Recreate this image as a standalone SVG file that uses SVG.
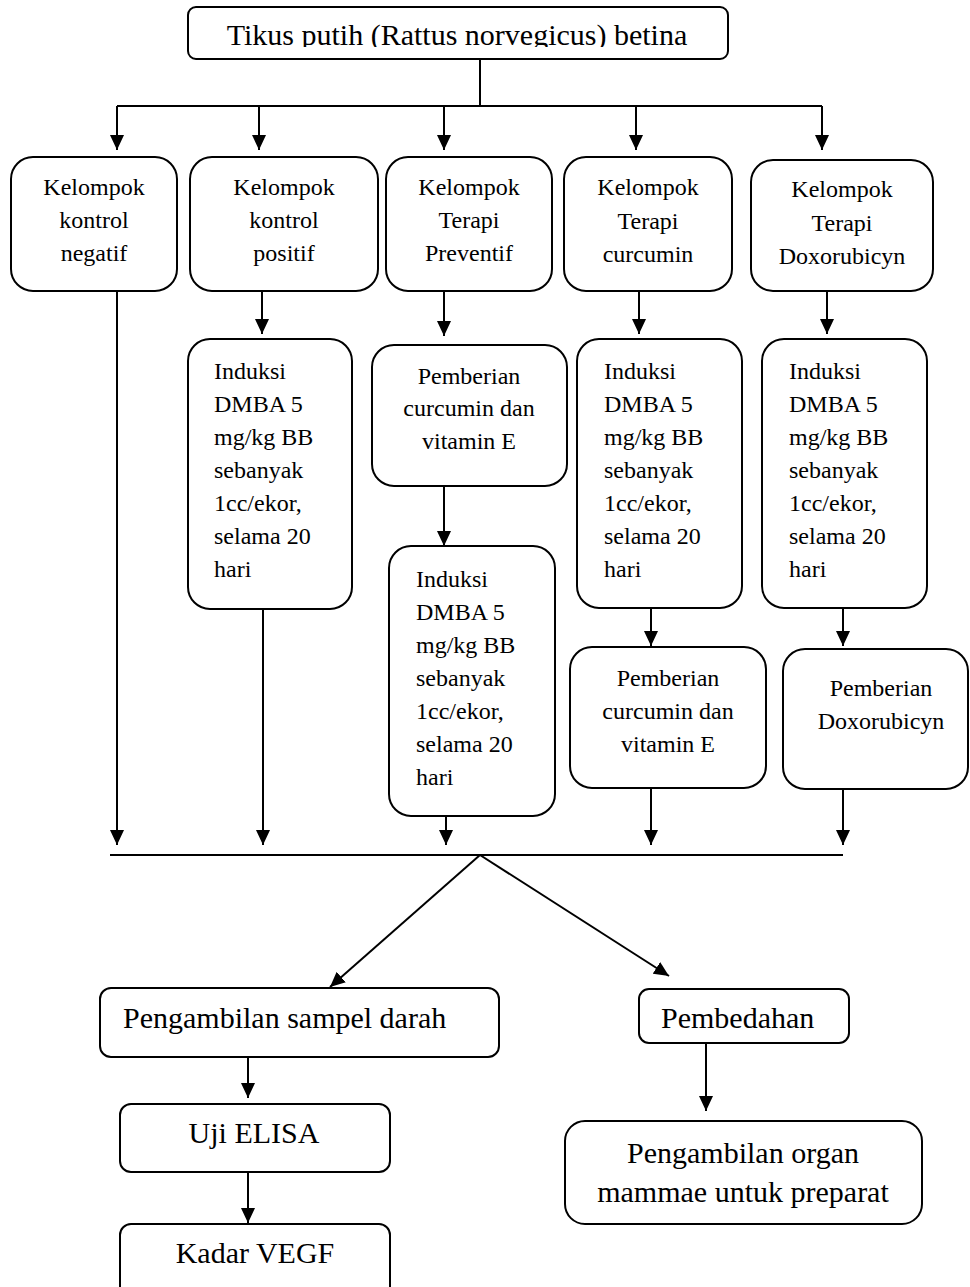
<svg xmlns="http://www.w3.org/2000/svg" width="970" height="1287" viewBox="0 0 970 1287">
<style>
.box{fill:#fff;stroke:#000;stroke-width:2}
.ln{fill:none;stroke:#000;stroke-width:2}
.t{font-family:"Liberation Serif","Times New Roman",serif;font-size:24px;fill:#000}
.c{text-anchor:middle}
.big{font-size:30px}
</style>
<defs>
<marker id="ah" viewBox="0 0 15 14" refX="15" refY="7" markerWidth="15" markerHeight="14" markerUnits="userSpaceOnUse" orient="auto">
<path d="M0,0 L15,7 L0,14 z" fill="#000"/>
</marker>
<clipPath id="titleClip"><rect x="188" y="7" width="540" height="40"/></clipPath>
</defs>
<rect width="970" height="1287" fill="#fff"/>

<g id="connectors">
<path class="ln" d="M480,59 V106 M117,106 H822 M110,855 H843"/>
<g marker-end="url(#ah)">
<path class="ln" d="M117,106 V150"/>
<path class="ln" d="M259,106 V150"/>
<path class="ln" d="M444,106 V150"/>
<path class="ln" d="M636,106 V150"/>
<path class="ln" d="M822,106 V150"/>
<path class="ln" d="M117,291 V845"/>
<path class="ln" d="M262,291 V334"/>
<path class="ln" d="M263,609 V845"/>
<path class="ln" d="M444,291 V336"/>
<path class="ln" d="M444,486 V546"/>
<path class="ln" d="M446,816 V845"/>
<path class="ln" d="M639,291 V334"/>
<path class="ln" d="M651,604 V646"/>
<path class="ln" d="M651,787 V845"/>
<path class="ln" d="M827,291 V334"/>
<path class="ln" d="M843,604 V646"/>
<path class="ln" d="M843,789 V845"/>
<path class="ln" d="M480,855 L330,987"/>
<path class="ln" d="M480,855 L669,976"/>
<path class="ln" d="M248,1057 V1098"/>
<path class="ln" d="M248,1172 V1223"/>
<path class="ln" d="M706,1043 V1111"/>
</g>
</g>

<g id="title">
<rect class="box" x="188" y="7" width="540" height="52" rx="8"/>
<text class="t c big" x="457" y="45" clip-path="url(#titleClip)">Tikus putih (Rattus norvegicus) betina</text>
</g>

<g id="k-negatif">
<rect class="box" x="11" y="157" width="166" height="134" rx="22"/>
<text class="t c" x="94" y="195">Kelompok</text>
<text class="t c" x="94" y="228">kontrol</text>
<text class="t c" x="94" y="261">negatif</text>
</g>
<g id="k-positif">
<rect class="box" x="190" y="157" width="188" height="134" rx="22"/>
<text class="t c" x="284" y="195">Kelompok</text>
<text class="t c" x="284" y="228">kontrol</text>
<text class="t c" x="284" y="261">positif</text>
</g>
<g id="k-preventif">
<rect class="box" x="386" y="157" width="166" height="134" rx="22"/>
<text class="t c" x="469" y="195">Kelompok</text>
<text class="t c" x="469" y="228">Terapi</text>
<text class="t c" x="469" y="261">Preventif</text>
</g>
<g id="k-curcumin">
<rect class="box" x="564" y="157" width="168" height="134" rx="22"/>
<text class="t c" x="648" y="195">Kelompok</text>
<text class="t c" x="648" y="229">Terapi</text>
<text class="t c" x="648" y="262">curcumin</text>
</g>
<g id="k-doxo">
<rect class="box" x="751" y="160" width="182" height="131" rx="22"/>
<text class="t c" x="842" y="197">Kelompok</text>
<text class="t c" x="842" y="231">Terapi</text>
<text class="t c" x="842" y="264">Doxorubicyn</text>
</g>

<g id="induksi-positif">
<rect class="box" x="188" y="339" width="164" height="270" rx="22"/>
<text class="t" x="214" y="379">Induksi</text>
<text class="t" x="214" y="412">DMBA 5</text>
<text class="t" x="214" y="445">mg/kg BB</text>
<text class="t" x="214" y="478">sebanyak</text>
<text class="t" x="214" y="511">1cc/ekor,</text>
<text class="t" x="214" y="544">selama 20</text>
<text class="t" x="214" y="577">hari</text>
</g>
<g id="pemberian-preventif">
<rect class="box" x="372" y="345" width="195" height="141" rx="22"/>
<text class="t c" x="469" y="384">Pemberian</text>
<text class="t c" x="469" y="416">curcumin dan</text>
<text class="t c" x="469" y="449">vitamin E</text>
</g>
<g id="induksi-preventif">
<rect class="box" x="389" y="546" width="166" height="270" rx="22"/>
<text class="t" x="416" y="587">Induksi</text>
<text class="t" x="416" y="620">DMBA 5</text>
<text class="t" x="416" y="653">mg/kg BB</text>
<text class="t" x="416" y="686">sebanyak</text>
<text class="t" x="416" y="719">1cc/ekor,</text>
<text class="t" x="416" y="752">selama 20</text>
<text class="t" x="416" y="785">hari</text>
</g>
<g id="induksi-curcumin">
<rect class="box" x="577" y="339" width="165" height="269" rx="22"/>
<text class="t" x="604" y="379">Induksi</text>
<text class="t" x="604" y="412">DMBA 5</text>
<text class="t" x="604" y="445">mg/kg BB</text>
<text class="t" x="604" y="478">sebanyak</text>
<text class="t" x="604" y="511">1cc/ekor,</text>
<text class="t" x="604" y="544">selama 20</text>
<text class="t" x="604" y="577">hari</text>
</g>
<g id="pemberian-curcumin">
<rect class="box" x="570" y="647" width="196" height="141" rx="22"/>
<text class="t c" x="668" y="686">Pemberian</text>
<text class="t c" x="668" y="719">curcumin dan</text>
<text class="t c" x="668" y="752">vitamin E</text>
</g>
<g id="induksi-doxo">
<rect class="box" x="762" y="339" width="165" height="269" rx="22"/>
<text class="t" x="789" y="379">Induksi</text>
<text class="t" x="789" y="412">DMBA 5</text>
<text class="t" x="789" y="445">mg/kg BB</text>
<text class="t" x="789" y="478">sebanyak</text>
<text class="t" x="789" y="511">1cc/ekor,</text>
<text class="t" x="789" y="544">selama 20</text>
<text class="t" x="789" y="577">hari</text>
</g>
<g id="pemberian-doxo">
<rect class="box" x="783" y="649" width="185" height="140" rx="22"/>
<text class="t c" x="881" y="696">Pemberian</text>
<text class="t c" x="881" y="729">Doxorubicyn</text>
</g>

<g id="sampel-darah">
<rect class="box" x="100" y="988" width="399" height="69" rx="11"/>
<text class="t big" x="123" y="1028">Pengambilan sampel darah</text>
</g>
<g id="uji-elisa">
<rect class="box" x="120" y="1104" width="270" height="68" rx="11"/>
<text class="t c big" x="254" y="1143">Uji ELISA</text>
</g>
<g id="kadar-vegf">
<rect class="box" x="120" y="1224" width="270" height="80" rx="11"/>
<text class="t c big" x="255" y="1263">Kadar VEGF</text>
</g>
<g id="pembedahan">
<rect class="box" x="639" y="989" width="210" height="54" rx="10"/>
<text class="t big" x="661" y="1028">Pembedahan</text>
</g>
<g id="organ-mammae">
<rect class="box" x="565" y="1121" width="357" height="103" rx="20"/>
<text class="t c big" x="743" y="1163">Pengambilan organ</text>
<text class="t c big" x="743" y="1202">mammae untuk preparat</text>
</g>
</svg>
